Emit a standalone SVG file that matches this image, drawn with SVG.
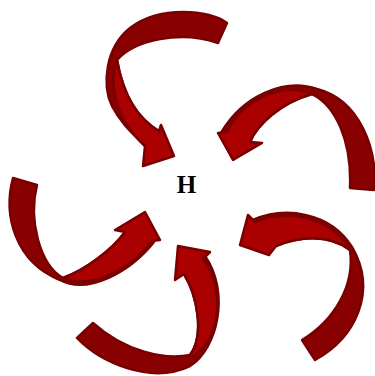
<svg xmlns="http://www.w3.org/2000/svg" width="375" height="376" viewBox="0 0 375 376">
<style>
.back{fill:#880000;stroke:#780000;stroke-width:2.5;stroke-linejoin:round}
.front{fill:#aa0000;stroke:#780000;stroke-width:2.5;stroke-linejoin:round}
.lbl{font-family:"Liberation Serif","Times New Roman",serif;font-weight:bold;font-size:25px;fill:#000}
</style>
<rect width="375" height="376" fill="#fff"/>
<g id="arrow-top">
<path class="back" d="M227,23 C210,10 160,5 130,28 C105,48 102,85 112,106 C120,122 132,133 145,146 L160,132 C140,120 124,100 117,60 C135,40 180,30 218,43 Z"/>
<path class="front" d="M117,60 C108,85 115,118 145,146 L143,166 L174,156 L161,125 L159,131 C140,120 124,100 117,60 Z"/>
</g>
<g id="arrow-right">
<path class="back" d="M374,190 C378,150 360,100 317,89 C285,78 243,95 221,133 L250,142 C257,125 280,103 312,94 C335,105 352,140 350,188 Z"/>
<path class="front" d="M312,94 C286,82 244,97 227,132 L218,133 L233,160 L262,143 L250,142 C257,125 280,103 312,94 Z"/>
</g>
<g id="arrow-left">
<path class="back" d="M13,178 C3,215 15,262 60,280 C88,295 130,272 154,242 L125,232 C112,250 85,270 63,278 C40,265 28,220 37,185 Z"/>
<path class="front" d="M63,278 C86,289 127,274 152,241 L160,240 L145,212 L115,230 L125,232 C112,250 85,270 63,278 Z"/>
</g>
<g id="arrow-bottom-right">
<path class="back" d="M315,360 C355,338 378,292 352,247 C330,212 285,206 253,220 L276,246 C297,237 328,233 350,250 C355,285 335,320 302,340 Z"/>
<path class="front" d="M350,250 C330,215 285,209 255,222 L248,215 L240,245 L269,255 L276,246 C297,237 328,233 350,250 Z"/>
</g>
<g id="arrow-bottom">
<path class="back" d="M77,338 C100,362 150,385 190,366 C218,348 230,292 205,256 L184,274 C197,295 205,335 190,355 C165,360 125,352 93,323 Z"/>
<path class="front" d="M190,358 C218,345 228,292 203,259 L210,252 L178,246 L175,280 L184,274 C197,295 205,335 190,355 Z"/>
</g>
<g id="node-h">
<text class="lbl" x="186.5" y="193" text-anchor="middle">H</text>
</g>
</svg>
